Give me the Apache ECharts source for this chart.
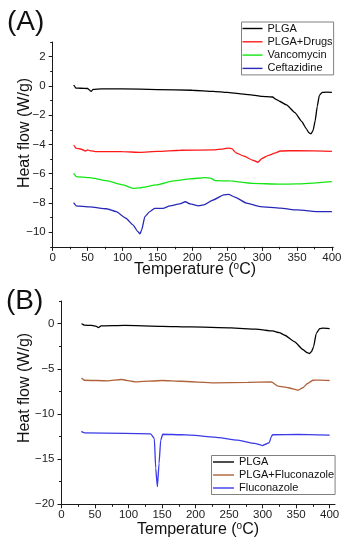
<!DOCTYPE html>
<html>
<head>
<meta charset="utf-8">
<script src="https://cdn.jsdelivr.net/npm/echarts@6/dist/echarts.min.js"></script>
<style>
html,body{margin:0;padding:0;background:#fff;}
#c{width:348px;height:550px;}
</style>
</head>
<body>
<div id="c"></div>
<script>
// ---------- Panel A data ----------
const plgaA_T = [30, 31, 33, 40, 50, 53, 55, 58, 70, 100, 150, 200, 230, 250, 270, 290, 300, 315, 320, 325, 335, 347, 357, 363, 367, 370, 373, 376, 379, 382, 386, 392, 400];
const plgaA_V = [0.05, 0.0, -0.15, -0.16, -0.18, -0.3, -0.38, -0.24, -0.2, -0.2, -0.25, -0.3, -0.38, -0.45, -0.55, -0.65, -0.72, -0.76, -0.92, -1.05, -1.3, -1.83, -2.44, -2.9, -3.2, -3.28, -3.05, -2.4, -1.4, -0.65, -0.45, -0.43, -0.44];

const drugsA_T = [30, 31, 33, 41, 47, 50, 53, 63, 100, 125, 150, 183, 230, 245, 252, 257, 262, 273, 288, 294, 300, 309, 318, 326, 350, 400];
const drugsA_V = [-4.05, -4.1, -4.26, -4.33, -4.45, -4.38, -4.42, -4.49, -4.5, -4.54, -4.48, -4.4, -4.38, -4.3, -4.25, -4.3, -4.56, -4.79, -5.1, -5.22, -4.95, -4.75, -4.6, -4.45, -4.42, -4.47];

const vancoA_T = [30, 31, 33.5, 53, 77, 101, 115, 125, 149, 173, 197, 218, 226, 233, 254, 285, 326, 350, 400];
const vancoA_V = [-5.97, -6.05, -6.2, -6.27, -6.48, -6.77, -7.0, -6.97, -6.77, -6.5, -6.36, -6.27, -6.3, -6.48, -6.5, -6.66, -6.72, -6.7, -6.54];

const ceftaA_T = [30, 31, 33.5, 53, 77, 91, 105, 115, 122, 125, 127.5, 132, 139, 146, 158, 168, 182, 190, 197, 209, 216, 230, 245, 252, 261, 278, 297, 326, 350, 383, 400];
const ceftaA_V = [-7.98, -8.05, -8.2, -8.27, -8.4, -8.6, -9.05, -9.5, -9.96, -10.12, -9.85, -8.94, -8.6, -8.37, -8.37, -8.2, -8.07, -7.92, -8.07, -8.2, -8.14, -7.8, -7.45, -7.42, -7.6, -8.02, -8.25, -8.36, -8.48, -8.6, -8.6];

// ---------- Panel B data ----------
const plgaB_T = [30, 31, 34, 45, 52, 55, 59, 94, 150, 193, 253, 290, 315, 325, 333, 348, 360, 366, 370, 373, 376, 380, 385, 390, 400];
const plgaB_V = [0.0, -0.05, -0.18, -0.2, -0.3, -0.45, -0.26, -0.2, -0.3, -0.37, -0.48, -0.62, -0.81, -1.0, -1.29, -2.03, -2.87, -3.2, -3.31, -3.1, -2.58, -1.1, -0.55, -0.5, -0.55];

const fluPlgaB_T = [30, 31, 34, 69, 89, 110, 150, 178, 228, 278, 313, 323, 338, 353, 360, 367, 375, 385, 400];
const fluPlgaB_V = [-6.0, -6.1, -6.27, -6.33, -6.19, -6.45, -6.3, -6.38, -6.56, -6.5, -6.45, -6.93, -7.1, -7.37, -7.1, -6.63, -6.27, -6.25, -6.3];

const fluB_T = [30, 31, 34, 94, 133, 138.5, 140.5, 143, 145.5, 148, 151, 178, 193, 228, 263, 288, 300, 306, 310, 313, 315, 353, 400];
const fluB_V = [-11.9, -12.0, -12.09, -12.16, -12.2, -12.7, -16.0, -18.05, -15.5, -12.9, -12.25, -12.3, -12.34, -12.56, -12.9, -13.26, -13.5, -13.3, -13.17, -12.5, -12.3, -12.26, -12.34];

// ---------- Names / ticks ----------
const namesA = ['PLGA', 'PLGA+Drugs', 'Vancomycin', 'Ceftazidine'];
const namesB = ['PLGA', 'PLGA+Fluconazole', 'Fluconazole'];
const xTicks = [0, 50, 100, 150, 200, 250, 300, 350, 400];
const xMinor = [25, 75, 125, 175, 225, 275, 325, 375];
const yTicksA = [-10, -8, -6, -4, -2, 0, 2];
const yMinorA = [-11, -9, -7, -5, -3, -1, 1, 3];
const yTicksB = [-20, -15, -10, -5, 0];
const yMinorB = [-17.5, -12.5, -7.5, -2.5, 2.5];
const panelLabels = ['(A)', '(B)'];
const xTitle = ['Temperature (', 'o', 'C)'];
const yTitle = 'Heat flow (W/g)';

const FONT = "'Liberation Sans', Arial, sans-serif";
const AX = '#1a1a1a';
const zip = (t, v) => t.map((x, i) => [x, v[i]]);
const fmt = v => String(v).replace('-', '\u2212');

function mainX(grid, max) {
  return {
    type: 'value', gridIndex: grid, min: 0, max: max, position: 'bottom',
    axisLine: { show: true, onZero: false, lineStyle: { color: AX, width: 1 } },
    axisTick: { show: true, inside: false, length: 4, customValues: xTicks, lineStyle: { color: AX } },
    axisLabel: { show: true, customValues: xTicks, formatter: fmt, margin: 5, fontSize: 11.5, color: '#222', fontFamily: FONT },
    splitLine: { show: false }
  };
}
function minorX(grid, max) {
  return {
    type: 'value', gridIndex: grid, min: 0, max: max, position: 'bottom',
    axisLine: { show: false, onZero: false },
    axisTick: { show: true, inside: false, length: 2.5, customValues: xMinor, lineStyle: { color: AX } },
    axisLabel: { show: false }, splitLine: { show: false }
  };
}
function mainY(grid, min, max, ticks) {
  return {
    type: 'value', gridIndex: grid, min: min, max: max, position: 'left',
    axisLine: { show: true, onZero: false, lineStyle: { color: AX, width: 1 } },
    axisTick: { show: true, inside: false, length: 4, customValues: ticks, lineStyle: { color: AX } },
    axisLabel: { show: true, customValues: ticks, formatter: fmt, margin: 7, fontSize: 11.5, color: '#222', fontFamily: FONT },
    splitLine: { show: false }
  };
}
function minorY(grid, min, max, ticks) {
  return {
    type: 'value', gridIndex: grid, min: min, max: max, position: 'left',
    axisLine: { show: false, onZero: false },
    axisTick: { show: true, inside: false, length: 2.5, customValues: ticks, lineStyle: { color: AX } },
    axisLabel: { show: false }, splitLine: { show: false }
  };
}
function line(name, data, color, xi, yi) {
  return {
    type: 'line', name: name, data: data, xAxisIndex: xi, yAxisIndex: yi,
    symbol: 'none', smooth: 0.15, smoothMonotone: 'x',
    lineStyle: { color: color, width: 1.3 }, itemStyle: { color: color },
    animation: false
  };
}
function legend(names, left, top, itemWidth, gap, pad) {
  return {
    data: names, orient: 'vertical', left: left, top: top,
    icon: 'rect', itemWidth: itemWidth, itemHeight: 1.4, itemGap: gap, padding: pad,
    borderColor: '#808080', borderWidth: 1, backgroundColor: '#fff',
    textStyle: { fontSize: 11, lineHeight: 13, color: '#111', fontFamily: FONT }
  };
}
function titleText(x, y) {
  return {
    type: 'text', x: x, y: y,
    style: {
      text: '{a|' + xTitle[0] + '}{s|' + xTitle[1] + '}{a|' + xTitle[2] + '}',
      rich: {
        a: { fontSize: 16, fontFamily: FONT, fill: '#111', lineHeight: 18 },
        s: { fontSize: 10, fontFamily: FONT, fill: '#111', verticalAlign: 'top', lineHeight: 18, padding: [0, 0, 6, 0] }
      },
      align: 'center', verticalAlign: 'middle'
    }
  };
}
function yTitleText(x, y) {
  return {
    type: 'text', x: x, y: y, rotation: Math.PI / 2,
    style: { text: yTitle, fontSize: 16, fontFamily: FONT, fill: '#111', align: 'center', verticalAlign: 'middle' }
  };
}
function panelText(x, y, t) {
  return {
    type: 'text', x: x, y: y,
    style: { text: t, fontSize: 28, fontFamily: FONT, fill: '#111', align: 'left', verticalAlign: 'middle' }
  };
}

const chart = echarts.init(document.getElementById('c'), null, { renderer: 'canvas' });
chart.setOption({
  animation: false,
  backgroundColor: '#fff',
  grid: [
    { left: 52.7, right: 14.7, top: 42, bottom: 303.2 },
    { left: 61.5, right: 13, top: 301, bottom: 45.7 }
  ],
  xAxis: [mainX(0, 402), minorX(0, 402), mainX(1, 408), minorX(1, 408)],
  yAxis: [mainY(0, -11, 3, yTicksA), minorY(0, -11, 3, yMinorA), mainY(1, -20, 2.5, yTicksB), minorY(1, -20, 2.5, yMinorB)],
  legend: [
    legend(namesA, 241.5, 22, 20, 0.3, [0, 1, 0, 1]),
    legend(namesB, 211.5, 455.5, 21, 0, [0, 1, 0, 1.5])
  ],
  series: [
    line(namesA[0], zip(plgaA_T, plgaA_V), '#000000', 0, 0),
    line(namesA[1], zip(drugsA_T, drugsA_V), '#ff1a1a', 0, 0),
    line(namesA[2], zip(vancoA_T, vancoA_V), '#14e614', 0, 0),
    line(namesA[3], zip(ceftaA_T, ceftaA_V), '#2828b8', 0, 0),
    line(namesB[0], zip(plgaB_T, plgaB_V), '#000000', 2, 2),
    line(namesB[1], zip(fluPlgaB_T, fluPlgaB_V), '#b0623a', 2, 2),
    line(namesB[2], zip(fluB_T, fluB_V), '#3a3ae8', 2, 2)
  ],
  graphic: [
    panelText(7, 22, panelLabels[0]),
    panelText(6, 301, panelLabels[1]),
    yTitleText(25, 133),
    yTitleText(25, 388),
    titleText(195, 270),
    titleText(198, 530)
  ]
});
</script>
</body>
</html>
